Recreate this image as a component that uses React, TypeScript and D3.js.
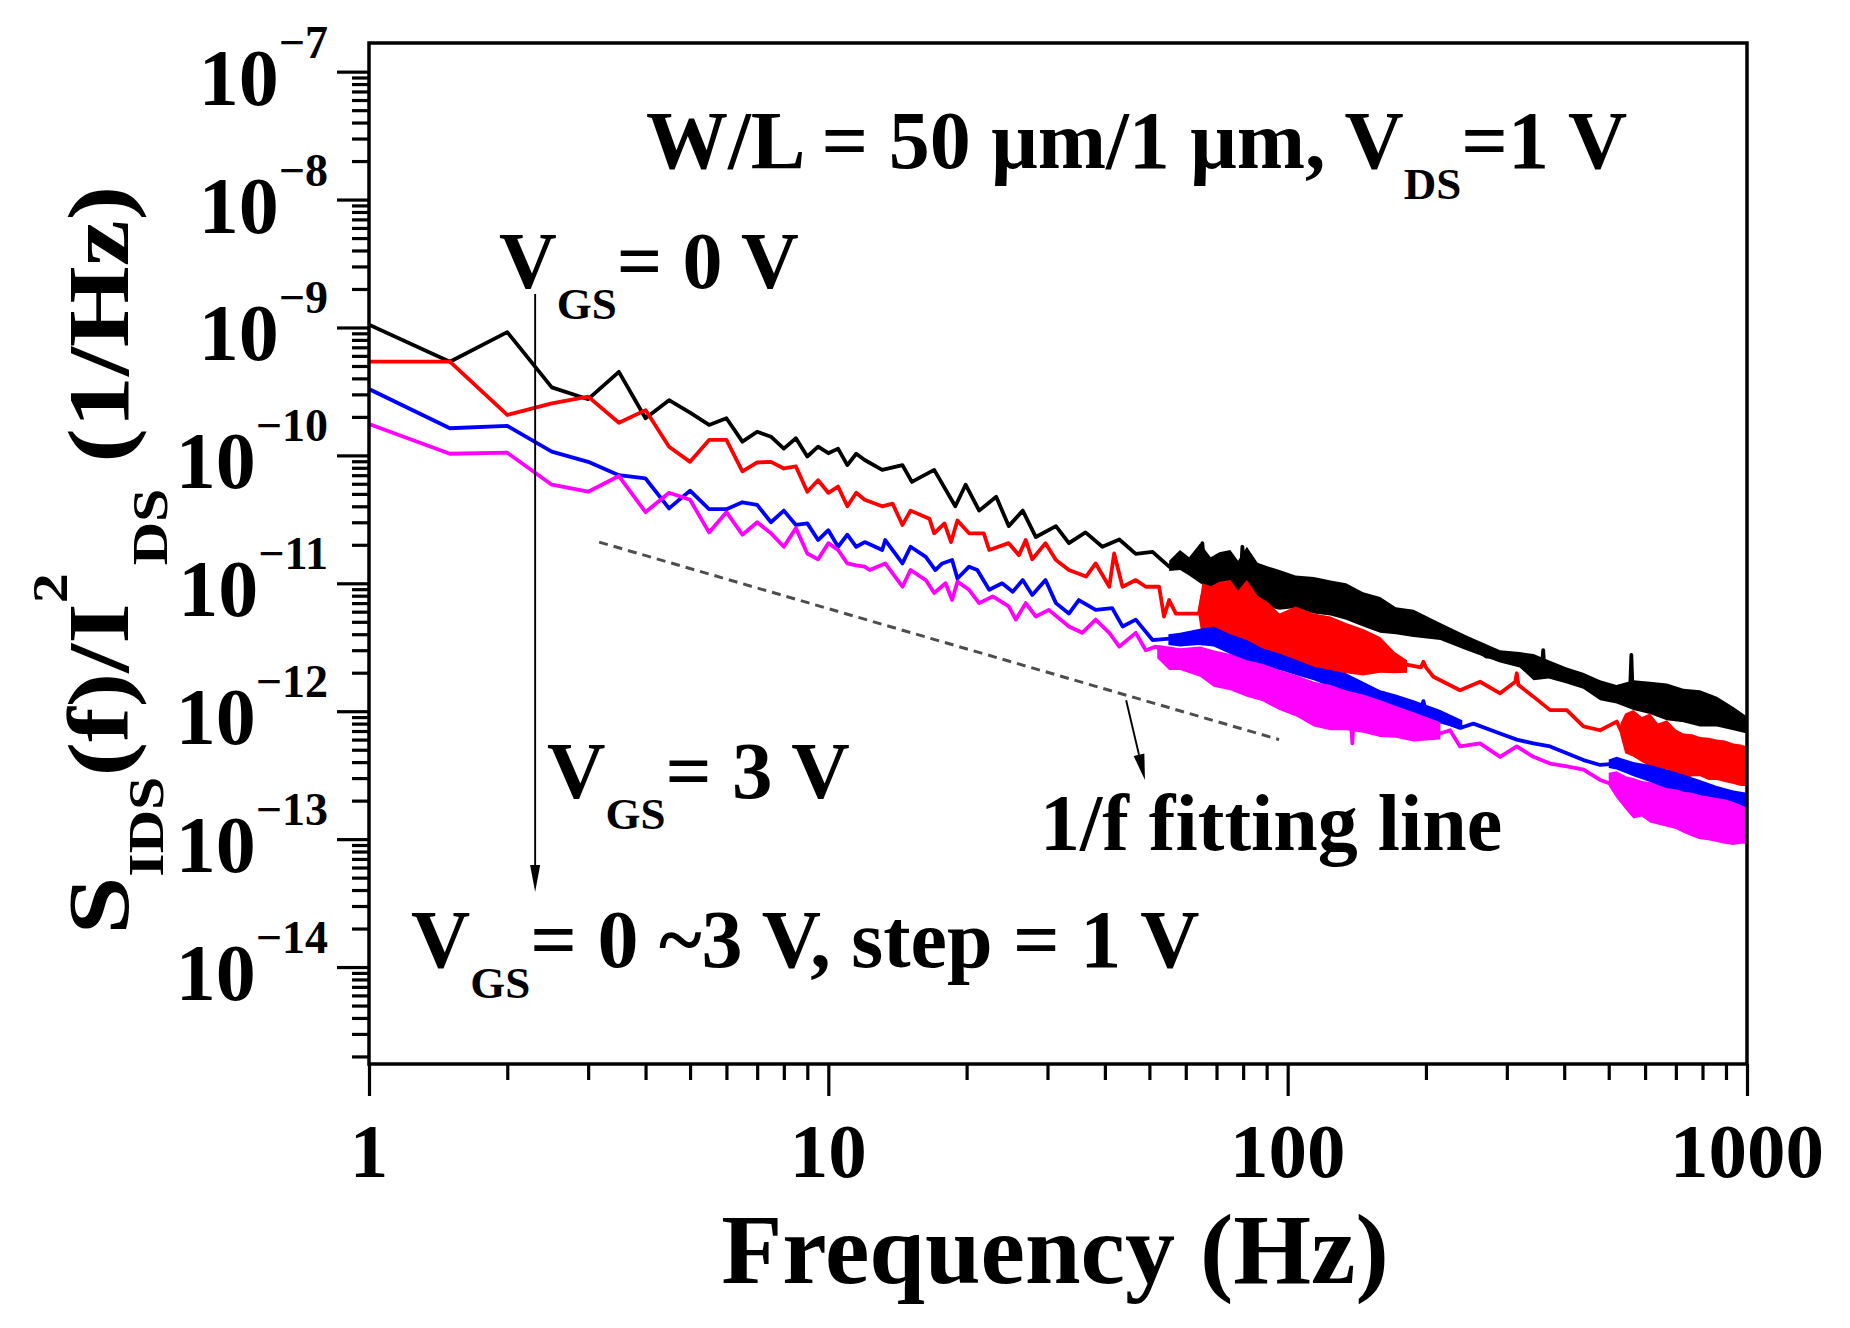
import { useEffect, useRef } from "react"
import * as d3 from "d3"

const W = 1850
const H = 1328
const FONT = "'Liberation Serif', 'Times New Roman', Times, serif"

// axis ticks
const xTicks = [1, 10, 100, 1000]
const yExponents = [-14, -13, -12, -11, -10, -9, -8, -7]

// series: [frequency (Hz), S/I^2 (1/Hz)]
const blackLine: [number, number][] = [
  [1, 1.05e-9], [1.5, 5.4e-10], [2, 9.2e-10], [2.5, 3.4e-10], [3, 2.75e-10], [3.5, 4.5e-10],
  [4, 1.95e-10], [4.5, 2.7e-10], [5, 2.16e-10], [5.5, 1.73e-10], [6, 1.95e-10], [6.5, 1.28e-10],
  [7, 1.53e-10], [7.5, 1.4e-10], [8, 1.13e-10], [8.5, 1.36e-10], [9, 9.8e-11], [9.5, 1.17e-10],
  [10, 1.04e-10], [10.5, 1.13e-10], [11, 8.4e-11], [11.5, 1.03e-10], [12, 9.2e-11], [13.1, 7.7e-11],
  [14.5, 8.4e-11], [15.2, 6.2e-11], [17, 7.7e-11], [18.9, 4.0e-11], [19.9, 5.9e-11], [21.3, 3.7e-11],
  [23.2, 4.75e-11], [24.7, 2.8e-11], [26.5, 3.7e-11], [28.3, 2.3e-11], [31.3, 2.8e-11], [33.4, 2.06e-11],
  [36.3, 2.5e-11], [39.5, 1.93e-11], [43, 2.2e-11], [46.7, 1.7e-11], [50.8, 1.76e-11], [55.2, 1.35e-11],
  [60, 1.52e-11], [64.5, 1.25e-11], [65.2, 2.06e-11], [66, 1.2e-11], [70.9, 1.2e-11], [79, 1.1e-11],
  [79.7, 1.93e-11], [80.5, 1.1e-11], [91.1, 9.4e-12], [107.6, 9.4e-12], [127.3, 7.4e-12], [150.4, 5.8e-12],
  [175.7, 5.2e-12], [207.6, 4.3e-12], [245.3, 3.4e-12], [271, 2.67e-12], [315, 2.67e-12], [342.8, 2.23e-12],
  [358, 2.3e-12], [360, 3.0e-12], [362, 2.2e-12], [405.2, 1.98e-12], [478.9, 1.46e-12], [556, 1.3e-12],
  [560, 2.75e-12], [564, 1.3e-12], [668.8, 1.22e-12], [790.5, 1.08e-12], [934.3, 8.5e-13], [1000, 7.6e-13],
]

const redLine: [number, number][] = [
  [1, 5.4e-10], [1.5, 5.4e-10], [2, 2.07e-10], [2.5, 2.55e-10], [3, 2.88e-10], [3.5, 1.8e-10],
  [4, 2.26e-10], [4.5, 1.17e-10], [5, 8.9e-11], [5.5, 1.32e-10], [6, 1.32e-10], [6.5, 7.5e-11],
  [7, 8.8e-11], [7.5, 8.9e-11], [8, 7.9e-11], [8.5, 8.2e-11], [9, 5.2e-11], [9.5, 6.4e-11],
  [10, 5.1e-11], [10.5, 5.7e-11], [11, 4.0e-11], [11.5, 5.1e-11], [12, 4.5e-11], [13.1, 4.0e-11],
  [13.8, 4.2e-11], [14.5, 2.86e-11], [15.1, 3.7e-11], [16.6, 3.2e-11], [17, 2.46e-11], [17.9, 2.94e-11],
  [18.5, 2.1e-11], [19.1, 3.1e-11], [20.25, 2.46e-11], [21.8, 2.46e-11], [22.4, 1.82e-11], [24.7, 2.06e-11],
  [26, 1.66e-11], [26.9, 2.18e-11], [27.8, 1.54e-11], [29.7, 2.06e-11], [31.3, 1.52e-11], [33.4, 1.27e-11],
  [36.4, 1.13e-11], [38.2, 1.43e-11], [40.9, 9.4e-12], [41.9, 1.71e-11], [43.7, 9.4e-12], [46.7, 1.06e-11],
  [49.1, 9.4e-12], [52.5, 9.4e-12], [53.8, 5.5e-12], [55.2, 7.4e-12], [57.1, 5.8e-12], [64.1, 5.8e-12],
  [65.2, 8.0e-12], [77.1, 6.2e-12], [91.1, 5.2e-12], [107.6, 3.6e-12], [127.3, 3.3e-12], [150.4, 3.0e-12],
  [175.7, 2.37e-12], [195, 2.2e-12], [197.5, 2.44e-12], [200, 2.2e-12], [207.6, 1.86e-12], [237.3, 1.46e-12],
  [262.3, 1.7e-12], [290, 1.38e-12], [313, 1.7e-12], [315.3, 1.98e-12], [318, 1.6e-12], [342.8, 1.3e-12],
  [372.7, 1.02e-12], [405.2, 1.02e-12], [440.5, 7.6e-13], [478.9, 7.1e-13], [520.5, 8.3e-13], [542.8, 6.0e-13],
  [615.2, 6.0e-13], [668.8, 5.6e-13], [790.5, 4.4e-13], [934.3, 3.9e-13], [1000, 3.7e-13],
]

const blueLine: [number, number][] = [
  [1, 3.3e-10], [1.5, 1.63e-10], [2, 1.7e-10], [2.5, 1.07e-10], [3, 8.9e-11], [3.5, 7.0e-11],
  [4, 6.6e-11], [4.5, 3.85e-11], [5, 5.3e-11], [5.5, 3.8e-11], [6, 3.8e-11], [6.5, 4.3e-11],
  [7, 4.1e-11], [7.5, 3.0e-11], [8, 3.7e-11], [8.5, 2.86e-11], [9, 2.94e-11], [9.5, 2.18e-11],
  [10, 2.6e-11], [10.5, 1.93e-11], [11, 2.4e-11], [11.5, 1.93e-11], [12, 2.1e-11], [13.1, 1.82e-11],
  [13.3, 2.18e-11], [14.5, 1.43e-11], [15.1, 1.93e-11], [16.3, 1.61e-11], [17.1, 1.27e-11], [17.7, 1.43e-11],
  [18.6, 1.52e-11], [19.1, 1.09e-11], [20.25, 1.35e-11], [21.1, 1.27e-11], [22.4, 8.9e-12], [23.9, 1.0e-11],
  [25.2, 8.6e-12], [26.5, 1.06e-11], [27.8, 8.1e-12], [29.7, 1.06e-11], [31.3, 7.0e-12], [33.4, 5.8e-12],
  [35.1, 7.4e-12], [38.2, 6.2e-12], [41.5, 6.4e-12], [43.7, 4.6e-12], [46.7, 5.2e-12], [50.8, 3.6e-12],
  [55.2, 3.7e-12], [60, 3.6e-12], [65.2, 3.8e-12], [69, 4.3e-12], [77.1, 3.2e-12], [83.8, 2.83e-12],
  [91.1, 2.5e-12], [107.6, 2.0e-12], [127.3, 1.8e-12], [150.4, 1.46e-12], [161.6, 1.38e-12], [175.7, 1.19e-12],
  [195, 1.05e-12], [197.5, 1.2e-12], [200, 1.0e-12], [214.6, 8.5e-13], [237.3, 7.4e-13], [253.7, 8.0e-13],
  [290, 6.7e-13], [315.3, 6.0e-13], [342.8, 5.6e-13], [372.7, 5.3e-13], [405.2, 4.7e-13], [440.5, 4.15e-13],
  [478.9, 3.8e-13], [520.5, 3.9e-13], [565.8, 3.5e-13], [668.8, 2.9e-13], [790.5, 2.4e-13], [934.3, 2.1e-13],
  [1000, 1.96e-13],
]

const magentaLine: [number, number][] = [
  [1, 1.76e-10], [1.5, 1.03e-10], [2, 1.05e-10], [2.5, 5.9e-11], [3, 5.2e-11], [3.5, 6.9e-11],
  [4, 3.6e-11], [4.5, 5.1e-11], [5, 4.5e-11], [5.5, 2.5e-11], [6, 3.6e-11], [6.5, 2.4e-11],
  [7, 3.0e-11], [7.5, 2.46e-11], [8, 1.93e-11], [8.5, 2.7e-11], [9, 1.71e-11], [9.5, 1.54e-11],
  [10, 2.06e-11], [10.5, 1.82e-11], [11, 1.43e-11], [11.5, 1.38e-11], [12, 1.35e-11], [12.3, 1.27e-11],
  [13.3, 1.43e-11], [14.5, 9.4e-12], [15.1, 1.27e-11], [16.3, 1.06e-11], [17, 8.4e-12], [18, 1.0e-11],
  [18.6, 7.4e-12], [19.1, 1.03e-11], [20.25, 8.9e-12], [21.3, 7.0e-12], [22.8, 7.9e-12], [24.7, 6.6e-12],
  [25.6, 5.2e-12], [26.9, 7.0e-12], [28.3, 5.5e-12], [30.2, 6.2e-12], [33.4, 4.6e-12], [35.7, 4.1e-12],
  [38.2, 5.2e-12], [40.9, 4.1e-12], [43, 3.2e-12], [46.7, 4.1e-12], [49.1, 3.0e-12], [51.6, 3.2e-12],
  [55.2, 2.8e-12], [60, 2.5e-12], [65.2, 2.2e-12], [77.1, 1.86e-12], [91.1, 1.55e-12], [107.6, 1.3e-12],
  [127.3, 1.15e-12], [137, 1.0e-12], [138.3, 5.6e-13], [139.5, 1.0e-12], [150.4, 1.08e-12], [175.7, 9.6e-13],
  [197.5, 8.0e-13], [214.6, 6.7e-13], [225.7, 7.1e-13], [237.3, 5.3e-13], [262.3, 5.6e-13], [290, 4.4e-13],
  [315.3, 5.3e-13], [342.8, 4.4e-13], [372.7, 3.9e-13], [405.2, 3.7e-13], [440.5, 3.5e-13], [478.9, 2.9e-13],
  [520.5, 2.6e-13], [565.8, 2.0e-13], [668.8, 1.7e-13], [790.5, 1.5e-13], [934.3, 1.25e-13], [1000, 1.18e-13],
]

// noisy parts: [frequency, lower edge, upper edge]
const blackBand: [number, number, number][] = [
  [55.2, 1.25e-11, 1.5e-11], [58.3, 1.27e-11, 1.82e-11], [61, 1.15e-11, 1.6e-11], [64.5, 1.0e-11, 2.06e-11],
  [68, 9.0e-12, 1.6e-11], [71, 8.5e-12, 1.75e-11], [75, 7.8e-12, 1.82e-11], [78, 8.0e-12, 1.5e-11],
  [81.5, 6.8e-12, 1.93e-11], [86, 7.0e-12, 1.45e-11], [91, 6.5e-12, 1.35e-11], [96, 6.2e-12, 1.27e-11],
  [104, 6.4e-12, 1.15e-11], [114, 5.8e-12, 1.12e-11], [124, 5.6e-12, 1.05e-11], [134, 5.2e-12, 1.0e-11],
  [146, 4.6e-12, 8.5e-12], [159, 4.1e-12, 7.8e-12], [172, 4.0e-12, 6.5e-12], [188, 3.8e-12, 6.2e-12],
  [215, 3.6e-12, 4.9e-12], [245, 3.0e-12, 3.9e-12], [290, 2.4e-12, 3.0e-12], [320, 2.2e-12, 2.9e-12],
  [343, 1.75e-12, 2.8e-12], [370, 1.8e-12, 2.5e-12], [405, 1.65e-12, 2.2e-12], [440, 1.5e-12, 2.0e-12],
  [479, 1.22e-12, 1.75e-12], [520, 1.15e-12, 1.6e-12], [566, 1.02e-12, 1.75e-12], [615, 9.5e-13, 1.7e-12],
  [669, 8.5e-13, 1.65e-12], [727, 8.2e-13, 1.5e-12], [790, 7.6e-13, 1.46e-12], [860, 7.6e-13, 1.3e-12],
  [934, 7.1e-13, 1.08e-12], [1000, 6.7e-13, 9.1e-13],
]
const redBandLow: [number, number, number][] = [
  [64, 5.5e-12, 6.5e-12], [65.2, 3.6e-12, 1.0e-11], [68, 3.4e-12, 9.5e-12], [71, 3.3e-12, 1.03e-11],
  [75, 3.0e-12, 1.06e-11], [78, 3.1e-12, 8.8e-12], [81.5, 2.8e-12, 1.06e-11], [86, 2.7e-12, 8.0e-12],
  [91, 2.6e-12, 7.0e-12], [96, 2.5e-12, 5.8e-12], [104, 2.4e-12, 6.6e-12], [114, 2.2e-12, 5.8e-12],
  [124, 2.05e-12, 5.5e-12], [134, 1.98e-12, 4.9e-12], [146, 1.9e-12, 4.4e-12], [159, 2.0e-12, 3.8e-12],
  [171, 1.98e-12, 2.9e-12], [182, 2.0e-12, 2.5e-12],
]
const redBandHigh: [number, number, number][] = [
  [530, 6.5e-13, 8.0e-13], [543, 4.7e-13, 9.6e-13], [566, 4.4e-13, 1.02e-12], [590, 4.0e-13, 9.0e-13],
  [615, 3.7e-13, 9.6e-13], [640, 3.6e-13, 8.0e-13], [669, 3.5e-13, 8.5e-13], [700, 3.2e-13, 7.2e-13],
  [727, 2.9e-13, 6.7e-13], [760, 3.1e-13, 6.6e-13], [790, 3.1e-13, 6.3e-13], [825, 2.9e-13, 6.2e-13],
  [859, 2.9e-13, 6.0e-13], [895, 2.8e-13, 5.9e-13], [934, 2.7e-13, 5.6e-13], [970, 2.6e-13, 5.5e-13],
  [1000, 2.6e-13, 5.3e-13],
]
const blueBandLow: [number, number, number][] = [
  [55, 3.3e-12, 4.0e-12], [58.3, 3.2e-12, 4.1e-12], [64, 3.3e-12, 4.4e-12], [69, 3.2e-12, 4.6e-12],
  [75, 2.8e-12, 4.0e-12], [81.5, 2.37e-12, 3.6e-12], [88, 2.2e-12, 3.1e-12], [96, 2.1e-12, 2.83e-12],
  [105, 1.9e-12, 2.5e-12], [114, 1.75e-12, 2.23e-12], [124, 1.55e-12, 2.1e-12], [134, 1.38e-12, 1.98e-12],
  [146, 1.3e-12, 1.7e-12], [159, 1.16e-12, 1.46e-12], [172, 1.05e-12, 1.35e-12], [188, 9.6e-13, 1.22e-12],
  [215, 8.0e-13, 1.02e-12], [240, 7.2e-13, 8.5e-13],
]
const blueBandHigh: [number, number, number][] = [
  [500, 3.6e-13, 4.2e-13], [520, 3.5e-13, 4.4e-13], [566, 3.1e-13, 4.0e-13], [615, 2.8e-13, 3.8e-13],
  [669, 2.4e-13, 3.5e-13], [727, 2.3e-13, 3.2e-13], [790, 2.06e-13, 2.9e-13], [860, 1.95e-13, 2.6e-13],
  [934, 1.8e-13, 2.4e-13], [1000, 1.7e-13, 2.3e-13],
]
const magentaBandLow: [number, number, number][] = [
  [52, 2.6e-12, 3.3e-12], [55.2, 2.1e-12, 3.2e-12], [58.3, 2.1e-12, 3.1e-12], [64.5, 1.86e-12, 3.2e-12],
  [69, 1.55e-12, 3.0e-12], [75, 1.46e-12, 2.8e-12], [81.5, 1.3e-12, 2.5e-12], [88, 1.2e-12, 2.35e-12],
  [96, 1.02e-12, 2.1e-12], [105, 9.0e-13, 1.9e-12], [114, 7.6e-13, 1.7e-12], [124, 7.1e-13, 1.6e-12],
  [134, 7.1e-13, 1.45e-12], [146, 6.8e-13, 1.35e-12], [159, 6.3e-13, 1.22e-12], [172, 6.2e-13, 1.1e-12],
  [188, 5.8e-13, 9.8e-13], [215, 6.0e-13, 8.2e-13],
]
const magentaBandHigh: [number, number, number][] = [
  [500, 2.6e-13, 3.3e-13], [520, 2.1e-13, 3.4e-13], [545, 1.7e-13, 3.1e-13], [566, 1.45e-13, 3.0e-13],
  [590, 1.5e-13, 2.85e-13], [615, 1.35e-13, 2.8e-13], [640, 1.3e-13, 2.65e-13], [669, 1.25e-13, 2.5e-13],
  [700, 1.2e-13, 2.45e-13], [727, 1.12e-13, 2.35e-13], [760, 1.05e-13, 2.3e-13], [790, 1.0e-13, 2.2e-13],
  [825, 9.8e-14, 2.15e-13], [859, 9.5e-14, 2.1e-13], [895, 9.2e-14, 2.05e-13], [934, 9.0e-14, 1.95e-13],
  [970, 9.2e-14, 1.85e-13], [1000, 9.2e-14, 1.75e-13],
]

// 1/f fitting line end points
const fitLine: [number, number][] = [[3.17, 2.1e-11], [95.8, 6.0e-13]]

const series = [
  { color: "#000000", line: blackLine, bands: [blackBand] },
  { color: "#ff0000", line: redLine, bands: [redBandLow, redBandHigh] },
  { color: "#0000ff", line: blueLine, bands: [blueBandLow, blueBandHigh] },
  { color: "#ff00ff", line: magentaLine, bands: [magentaBandLow, magentaBandHigh] },
]

export default function App() {
  const svgRef = useRef<SVGSVGElement | null>(null)

  useEffect(() => {
    if (!svgRef.current) return
    const svg = d3.select(svgRef.current)
    svg.selectAll("*").remove()

    const left = 369
    const right = 1747
    const top = 43
    const bottom = 1064

    const x = d3.scaleLog().domain([1, 1000]).range([left, right])
    const y = d3.scaleLog().domain([10 ** -14.758, 10 ** -6.776]).range([bottom, top])

    svg.append("rect").attr("width", W).attr("height", H).attr("fill", "#fff")

    svg
      .append("defs")
      .append("clipPath")
      .attr("id", "plot-clip")
      .append("rect")
      .attr("x", left)
      .attr("y", top)
      .attr("width", right - left)
      .attr("height", bottom - top)

    // data
    const plot = svg.append("g").attr("clip-path", "url(#plot-clip)")
    const line = d3
      .line<[number, number]>()
      .x((d) => x(d[0]))
      .y((d) => y(d[1]))
    const area = d3
      .area<[number, number, number]>()
      .x((d) => x(d[0]))
      .y0((d) => y(d[1]))
      .y1((d) => y(d[2]))

    series.forEach((s) => {
      s.bands.forEach((b) => {
        plot.append("path").datum(b).attr("fill", s.color).attr("d", area)
      })
      plot
        .append("path")
        .datum(s.line)
        .attr("fill", "none")
        .attr("stroke", s.color)
        .attr("stroke-width", 3.8)
        .attr("stroke-linejoin", "round")
        .attr("d", line)
    })

    // 1/f fitting line
    plot
      .append("path")
      .datum(fitLine)
      .attr("fill", "none")
      .attr("stroke", "#4d4d4d")
      .attr("stroke-width", 3)
      .attr("stroke-dasharray", "9,6")
      .attr("d", line)

    // arrows
    const arrow = (x1: number, y1: number, x2: number, y2: number, len: number, half: number) => {
      const dx = x2 - x1
      const dy = y2 - y1
      const l = Math.hypot(dx, dy)
      const ux = dx / l
      const uy = dy / l
      const bx = x2 - ux * len
      const by = y2 - uy * len
      svg
        .append("line")
        .attr("x1", x1)
        .attr("y1", y1)
        .attr("x2", bx)
        .attr("y2", by)
        .attr("stroke", "#000")
        .attr("stroke-width", 1.9)
      svg
        .append("polygon")
        .attr("points", `${x2},${y2} ${bx - uy * half},${by + ux * half} ${bx + uy * half},${by - ux * half}`)
        .attr("fill", "#000")
    }
    arrow(x(2.3), y(1.83e-9), x(2.3), y(3.86e-14), 27, 5)
    arrow(x(44.5), y(1.22e-12), x(48.9), y(2.9e-13), 26, 5.5)

    // frame
    svg
      .append("rect")
      .attr("x", left)
      .attr("y", top)
      .attr("width", right - left)
      .attr("height", bottom - top)
      .attr("fill", "none")
      .attr("stroke", "#000")
      .attr("stroke-width", 3.5)

    // y ticks
    const yMajor = yExponents.map((e) => 10 ** e)
    const yMinor: number[] = []
    for (let e = -15; e <= -7; e++) {
      for (let m = 2; m <= 9; m++) {
        const v = m * 10 ** e
        if (v >= y.domain()[0] && v <= y.domain()[1]) yMinor.push(v)
      }
    }
    const yAxisMajor = svg
      .append("g")
      .attr("transform", `translate(${left},0)`)
      .call(d3.axisLeft(y).tickValues(yMajor).tickSize(32).tickFormat(() => ""))
    const yAxisMinor = svg
      .append("g")
      .attr("transform", `translate(${left},0)`)
      .call(d3.axisLeft(y).tickValues(yMinor).tickSize(17).tickFormat(() => ""))

    // x ticks
    const xMinor: number[] = []
    for (let e = 0; e <= 2; e++) {
      for (let m = 2; m <= 9; m++) xMinor.push(m * 10 ** e)
    }
    const xAxisMajor = svg
      .append("g")
      .attr("transform", `translate(0,${bottom})`)
      .call(d3.axisBottom(x).tickValues(xTicks).tickSize(32).tickFormat(() => ""))
    const xAxisMinor = svg
      .append("g")
      .attr("transform", `translate(0,${bottom})`)
      .call(d3.axisBottom(x).tickValues(xMinor).tickSize(16).tickFormat(() => ""))

    ;[yAxisMajor, yAxisMinor, xAxisMajor, xAxisMinor].forEach((g) => {
      g.select(".domain").remove()
      g.selectAll("line").attr("stroke", "#000").attr("stroke-width", 3.2)
    })

    // tick labels
    const labels = svg.append("g").attr("font-family", FONT).attr("font-weight", "bold").attr("fill", "#000")
    yExponents.forEach((e) => {
      const t = labels
        .append("text")
        .attr("x", 328)
        .attr("y", y(10 ** e) + 33)
        .attr("text-anchor", "end")
        .attr("font-size", 80)
      t.append("tspan").text("10")
      t.append("tspan").attr("dy", -47).attr("font-size", 46).text(`\u2212${Math.abs(e)}`)
    })
    xTicks.forEach((v) => {
      labels
        .append("text")
        .attr("x", x(v))
        .attr("y", 1177)
        .attr("text-anchor", "middle")
        .attr("font-size", 77)
        .text(String(v))
    })

    // axis titles
    labels
      .append("text")
      .attr("x", 1055)
      .attr("y", 1283)
      .attr("text-anchor", "middle")
      .attr("font-size", 100)
      .text("Frequency (Hz)")

    const yt = labels
      .append("text")
      .attr("transform", "translate(128,560) rotate(-90) scale(1,0.84)")
      .attr("text-anchor", "middle")
      .attr("font-size", 104)
    yt.append("tspan").text("S")
    yt.append("tspan").attr("dy", 42).attr("font-size", 60).text("IDS")
    yt.append("tspan").attr("dy", -42).text("(f)/I")
    yt.append("tspan").attr("dy", -73).attr("font-size", 60).text("2")
    yt.append("tspan").attr("dy", 119).attr("dx", 8).attr("font-size", 60).text("DS")
    yt.append("tspan").attr("dy", -46).text(" (1/Hz)")

    // annotations
    const note = (px: number, py: number, size: number, parts: [string, boolean][]) => {
      const t = labels.append("text").attr("x", px).attr("y", py).attr("font-size", size)
      let shifted = false
      parts.forEach(([txt, sub]) => {
        let dy = 0
        if (sub && !shifted) dy = 31
        if (!sub && shifted) dy = -31
        shifted = sub
        t.append("tspan")
          .attr("dy", dy)
          .attr("font-size", sub ? 45 : size)
          .text(txt)
      })
    }
    note(646, 168, 82, [["W/L = 50 \u03bcm/1 \u03bcm, V", false], ["DS", true], ["=1 V", false]])
    note(499, 288, 80, [["V", false], ["GS", true], ["= 0 V", false]])
    note(547, 798, 81, [["V", false], ["GS", true], ["= 3 V", false]])
    note(411, 967, 82, [["V", false], ["GS", true], ["= 0 ~3 V, step = 1 V", false]])
    note(1040, 850, 80, [["1/f fitting line", false]])
  }, [])

  return (
    <svg
      ref={svgRef}
      width={W}
      height={H}
      style={{ position: "absolute", left: 0, top: 0, display: "block" }}
    />
  )
}
